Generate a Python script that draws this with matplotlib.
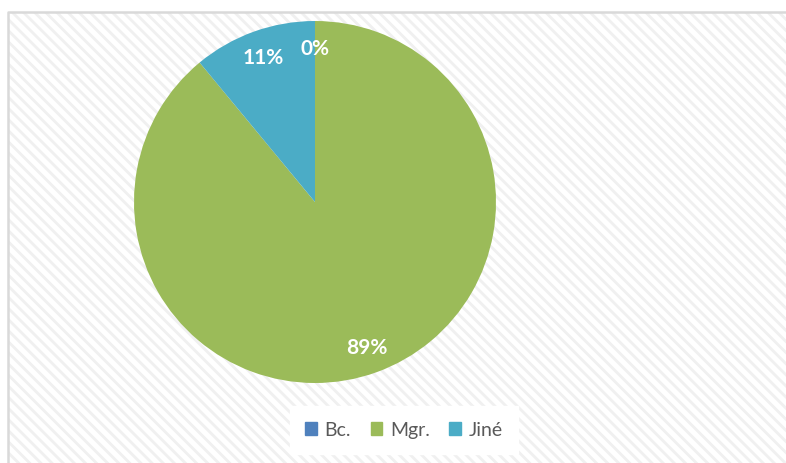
import matplotlib
matplotlib.use('Agg')
import matplotlib.pyplot as plt
import matplotlib.patches as mpatches

labels = ['Bc.', 'Mgr.', 'Jiné']
values = [0, 89, 11]
colors = ['#4F81BD', '#9BBB59', '#4BACC6']

plt.rcParams['font.family'] = ['Lato', 'DejaVu Sans']
plt.rcParams['hatch.linewidth'] = 2.0
plt.rcParams['hatch.color'] = '#f0f0f0'

W, H = 786, 464
fig = plt.figure(figsize=(W / 100, H / 100), dpi=100)
fig.patch.set_facecolor('white')

# hatched chart background, axes runs past the right and bottom edges
x0, ytop = 8 / W, 1 - 13 / H
bgax = fig.add_axes([x0, -0.05, 1.05 - x0, ytop + 0.05], zorder=0)
bgax.set_axis_off()
bgax.add_patch(mpatches.Rectangle((0, 0), 1, 1, transform=bgax.transAxes,
                                  facecolor='white', edgecolor='#f0f0f0', linewidth=0,
                                  hatch='\\\\\\'))
bgax.plot([0, 0, 1], [0, 1, 1], transform=bgax.transAxes, color='#d9d9d9',
          linewidth=1.8, clip_on=False)

cx, cy, r = 315, 464 - 203, 181
ax = fig.add_axes([(cx - r) / W, (cy - r) / H, 2 * r / W, 2 * r / H], zorder=2)
ax.patch.set_alpha(0)

wedges, texts, autotexts = ax.pie(values, colors=colors, startangle=90, counterclock=False,
                                  autopct='%1.0f%%', pctdistance=0.85,
                                  wedgeprops=dict(linewidth=0),
                                  textprops=dict(color='white', fontsize=15, fontweight='bold'))
ax.set_xlim(-1, 1)
ax.set_ylim(-1, 1)
ax.set_aspect('equal')

handles = [mpatches.Patch(color=c, label=l) for c, l in zip(colors, labels)]
leg = fig.legend(handles=handles, loc='center', bbox_to_anchor=(404 / W, 33 / H), ncol=3,
                 frameon=True, fancybox=False, fontsize=14, handlelength=0.6, handleheight=0.6,
                 handletextpad=0.4, columnspacing=1.0, borderpad=0.8, labelcolor='#595959')
leg.set_zorder(3)
leg.get_frame().set_facecolor('white')
leg.get_frame().set_edgecolor('white')
leg.get_frame().set_alpha(1)

fig.savefig('out.png', dpi=100)
